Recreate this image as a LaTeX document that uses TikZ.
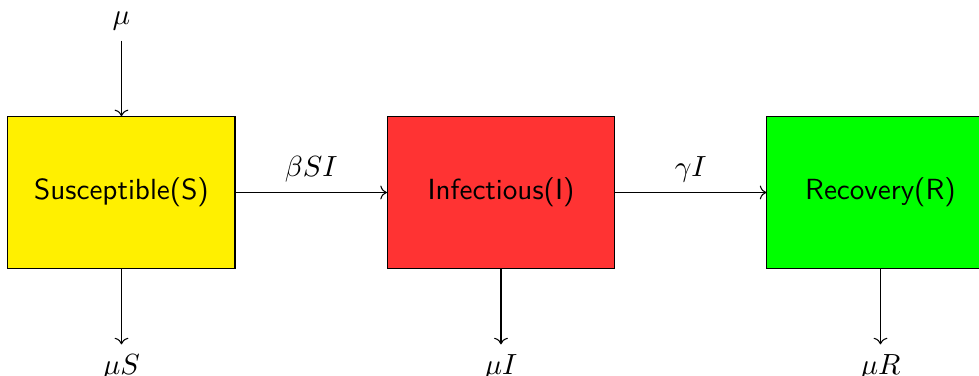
\documentclass[tikz,border=0pt,11pt]{standalone}
\usepackage{amsmath,amssymb}
\usepackage{tikz}
\usetikzlibrary{arrows.meta,positioning}
\definecolor{boxred}{RGB}{255,51,51}
\definecolor{boxyellow}{RGB}{255,240,0}

\begin{document}
\begin{tikzpicture}[
  comp/.style={draw, minimum width=3cm, minimum height=2cm, inner sep=0pt,
               font=\sffamily},
  ar/.style={->}
]
\useasboundingbox (-1.605,-2.424) rectangle (11.33,2.543);
%--- compartments -------------------------------------------------------------
\node[comp, fill=boxyellow] (S) at (0,0) {Susceptible(S)};
\node[comp, fill=boxred, right=2cm of S] (I) {Infectious(I)};
\node[comp, fill=green, right=2cm of I] (R) {Recovery(R)};

%--- transmission and recovery ------------------------------------------------
\draw[ar] (S) -- node[above] {$\beta SI$} (I);
\draw[ar] (I) -- node[above] {$\gamma I$} (R);

%--- births and deaths --------------------------------------------------------
\node[above=1cm of S.north, anchor=south] (birth) {$\mu$};
\draw[ar] (birth.south) -- (S.north);
\foreach \c/\t in {S/S, I/I, R/R}{
  \node[below=1cm of \c.south, anchor=north] (d\c) {$\mu \t$};
  \draw[ar] (\c.south) -- (d\c.north);
}
\end{tikzpicture}
\end{document}
